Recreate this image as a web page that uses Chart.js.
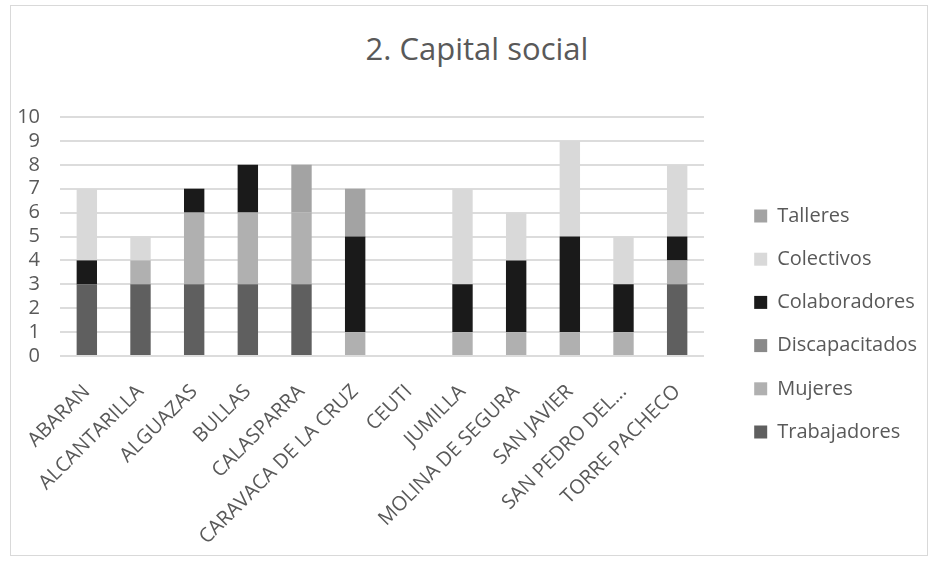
<!DOCTYPE html>
<html>

<head>
    <title>2. Capital social</title>
    <script src="https://cdn.jsdelivr.net/npm/chart.js"></script>
    <style>
        body {
            margin: 0;
            background: #fff;
            font-family: "Open Sans", sans-serif;
        }

        #box {
            position: absolute;
            left: 10px;
            top: 5px;
            width: 916px;
            height: 549px;
            border: 1px solid #d9d9d9;
        }

        #title {
            position: absolute;
            left: 16px;
            right: 0;
            top: 22px;
            line-height: 40px;
            text-align: center;
            font-size: 31px;
            color: #595959;
        }

        #wrap {
            position: absolute;
            left: 0;
            top: 79px;
            width: 916px;
            height: 470px;
        }
    </style>
</head>

<body>
    <div id="box">
        <div id="title">2. Capital social</div>
        <div id="wrap"><canvas id="myChart"></canvas></div>
    </div>

    <script>
        // data
        const categories = ['ABARAN', 'ALCANTARILLA', 'ALGUAZAS', 'BULLAS', 'CALASPARRA', 'CARAVACA DE LA CRUZ',
            'CEUTI', 'JUMILLA', 'MOLINA DE SEGURA', 'SAN JAVIER', 'SAN PEDRO DEL...', 'TORRE PACHECO'];
        const trabajadores = [3, 3, 3, 3, 3, 0, 0, 0, 0, 0, 0, 3];
        const mujeres = [0, 1, 3, 3, 3, 1, 0, 1, 1, 1, 1, 1];
        const discapacitados = [0, 0, 0, 0, 0, 0, 0, 0, 0, 0, 0, 0];
        const colaboradores = [1, 0, 1, 2, 0, 4, 0, 2, 3, 4, 2, 1];
        const colectivos = [3, 1, 0, 0, 0, 0, 0, 4, 2, 4, 2, 3];
        const talleres = [0, 0, 0, 0, 2, 2, 0, 0, 0, 0, 0, 0];
        const yTicks = [0, 1, 2, 3, 4, 5, 6, 7, 8, 9, 10];

        const textColor = '#595959';
        const gridColor = '#dcdcdc';

        function series(label, data, color) {
            return {
                label: label,
                data: data,
                backgroundColor: color,
                borderWidth: 0,
                barPercentage: 0.38,
                categoryPercentage: 1
            };
        }

        const ctx = document.getElementById('myChart').getContext('2d');

        const myChart = new Chart(ctx, {
            type: 'bar',
            data: {
                labels: categories,
                datasets: [
                    series('Trabajadores', trabajadores, '#5f5f5f'),
                    series('Mujeres', mujeres, '#b0b0b0'),
                    series('Discapacitados', discapacitados, '#898989'),
                    series('Colaboradores', colaboradores, '#1a1a1a'),
                    series('Colectivos', colectivos, '#d9d9d9'),
                    series('Talleres', talleres, '#a3a3a3')
                ]
            },
            options: {
                responsive: true,
                maintainAspectRatio: false,
                animation: false,
                layout: {
                    padding: { top: 12, left: 0, right: 0, bottom: 4 }
                },
                plugins: {
                    title: { display: false },
                    tooltip: { enabled: false },
                    legend: {
                        position: 'right',
                        reverse: true,
                        maxWidth: 220,
                        labels: {
                            boxWidth: 13,
                            boxHeight: 13,
                            padding: 23.2,
                            color: textColor,
                            font: { family: 'Open Sans', size: 20 }
                        }
                    }
                },
                scales: {
                    x: {
                        stacked: true,
                        grid: { display: false },
                        border: { display: false },
                        ticks: {
                            autoSkip: false,
                            minRotation: 45,
                            maxRotation: 45,
                            padding: 16,
                            color: textColor,
                            font: { family: 'Open Sans', size: 20 }
                        },
                        afterFit: function(axis) {
                            axis.height = 195;
                        }
                    },
                    y: {
                        stacked: true,
                        min: 0,
                        max: 10,
                        border: { display: false },
                        grid: { color: gridColor, lineWidth: 2, drawTicks: false },
                        afterBuildTicks: function(axis) {
                            axis.ticks = yTicks.map(v => ({ value: v }));
                        },
                        ticks: {
                            autoSkip: false,
                            padding: 20,
                            color: textColor,
                            font: { family: 'Open Sans', size: 20 }
                        },
                        afterFit: function(axis) {
                            axis.width = 49;
                        }
                    },
                    // empty space between plot and legend
                    gap: {
                        type: 'linear',
                        position: 'right',
                        grid: { display: false },
                        border: { display: false },
                        ticks: { display: false },
                        afterFit: function(axis) {
                            axis.width = 27;
                        }
                    }
                }
            }
        });
    </script>
</body>

</html>
